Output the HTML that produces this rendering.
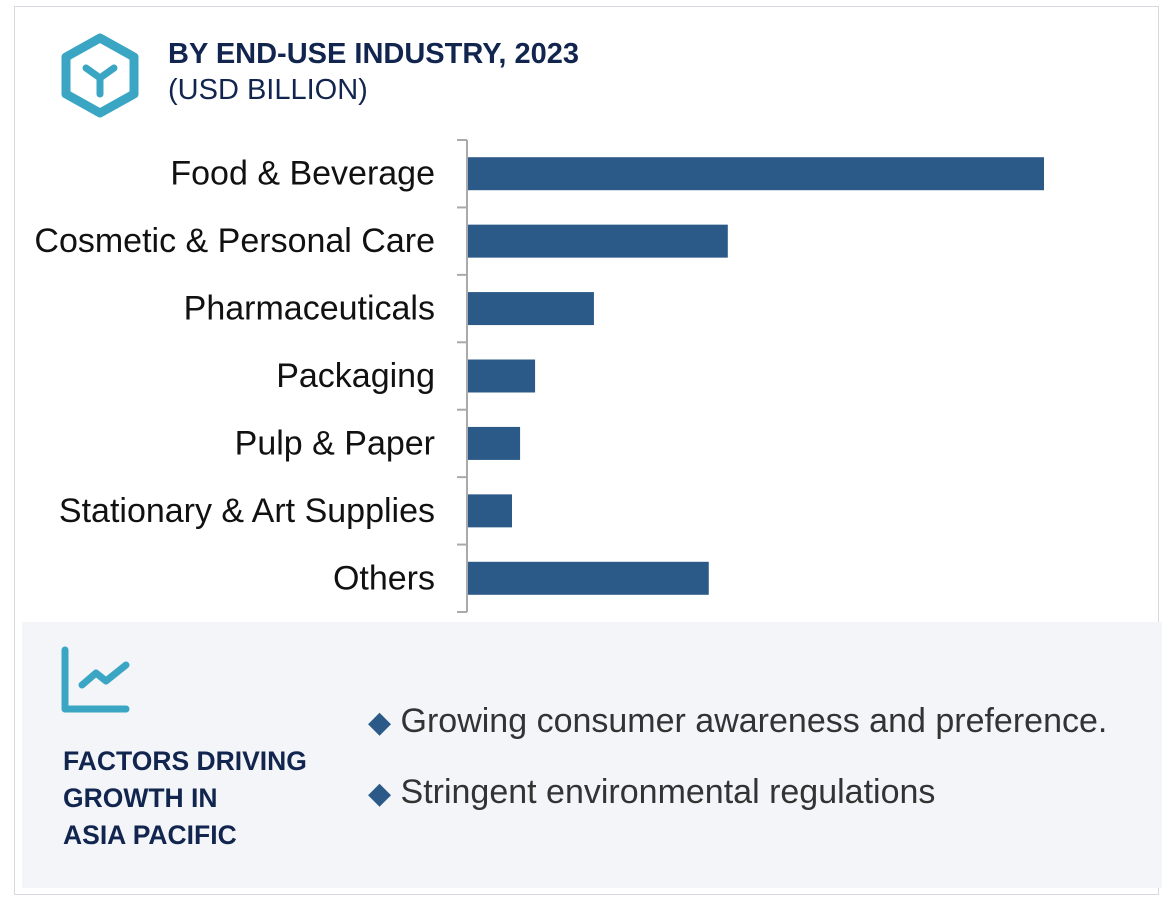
<!DOCTYPE html>
<html><head><meta charset="utf-8"><style>
body{margin:0;width:1170px;height:898px;background:#fff;font-family:"Liberation Sans",sans-serif;overflow:hidden}
#frame{position:absolute;left:14px;top:6px;width:1145px;height:889px;border:1px solid #d8d8e0;box-sizing:border-box}
#panel{position:absolute;left:22px;top:622px;width:1140px;height:266px;background:#f3f5f9}
.t{position:absolute;white-space:nowrap}
</style></head><body>
<div id="frame"></div>
<svg class="t" style="left:58px;top:32px" width="84" height="86">
<polygon points="42,6 76,25 76,62 42,81 8,62 8,25" fill="none" stroke="#3aa6c4" stroke-width="9" stroke-linejoin="round"/>
<path d="M28,36 L42,46 L56,36 M42,46 L42,62" fill="none" stroke="#3aa6c4" stroke-width="7" stroke-linecap="round"/>
</svg>
<div class="t" style="left:168px;top:38px;font-size:29px;font-weight:bold;color:#12254f">BY END-USE INDUSTRY, 2023</div>
<div class="t" style="left:168px;top:74px;font-size:29px;color:#12254f">(USD BILLION)</div>
<svg id="chart" class="t" style="left:0;top:0" width="1170" height="620"></svg>
<div id="panel"></div>
<svg class="t" style="left:60px;top:645px" width="72" height="72">
<path d="M5,5 L5,64 L66,64" fill="none" stroke="#3aa6c4" stroke-width="7" stroke-linecap="round" stroke-linejoin="round"/>
<path d="M22,40 L36,28 L46,36 L66,20" fill="none" stroke="#3aa6c4" stroke-width="7" stroke-linecap="round" stroke-linejoin="round"/>
</svg>
<div class="t" style="left:63px;top:743px;font-size:26.5px;font-weight:bold;color:#12254f;line-height:37px">FACTORS DRIVING<br>GROWTH IN<br>ASIA PACIFIC</div>
<div class="t" style="left:368px;top:702px;font-size:34px;color:#333"><span style="color:#2c5a88;font-size:30px">◆</span> Growing consumer awareness and preference.</div>
<div class="t" style="left:368px;top:773px;font-size:34px;color:#333"><span style="color:#2c5a88;font-size:30px">◆</span> Stringent environmental regulations</div>
<script>
const categories=["Food & Beverage","Cosmetic & Personal Care","Pharmaceuticals","Packaging","Pulp & Paper","Stationary & Art Supplies","Others"];
const values=[10.0,4.52,2.2,1.18,0.92,0.78,4.19];
const maxValue=10;
const svg=document.getElementById('chart');
const NS='http://www.w3.org/2000/svg';
const x0=467,x1=1044,yTop=140,yBot=612;
const band=(yBot-yTop)/categories.length;
const xs=v=>x0+(x1-x0)*v/maxValue;
function mk(tag,attrs){const e=document.createElementNS(NS,tag);for(const k in attrs)e.setAttribute(k,attrs[k]);svg.appendChild(e);return e;}
const ax=mk('line',{x1:x0,y1:yTop,x2:x0,y2:yBot,stroke:'#aaa','stroke-width':2});


for(let i=0;i<=categories.length;i++){
  const y=yTop+i*band;
  const tk=mk('line',{x1:x0-10,y1:y,x2:x0,y2:y,stroke:'#aaa','stroke-width':2});
  
  
}
categories.forEach((c,i)=>{
  const yc=yTop+(i+0.5)*band;
  const r=mk('rect',{x:x0+1,y:yc-16.5,width:xs(values[i])-x0-1,height:33,fill:'#2c5a88'});
  
  
  const t=mk('text',{x:435,y:yc+11,'text-anchor':'end','font-size':34,fill:'#111','font-family':'Liberation Sans, sans-serif'});
  t.textContent=c;
  
  
});
</script>
</body></html>
